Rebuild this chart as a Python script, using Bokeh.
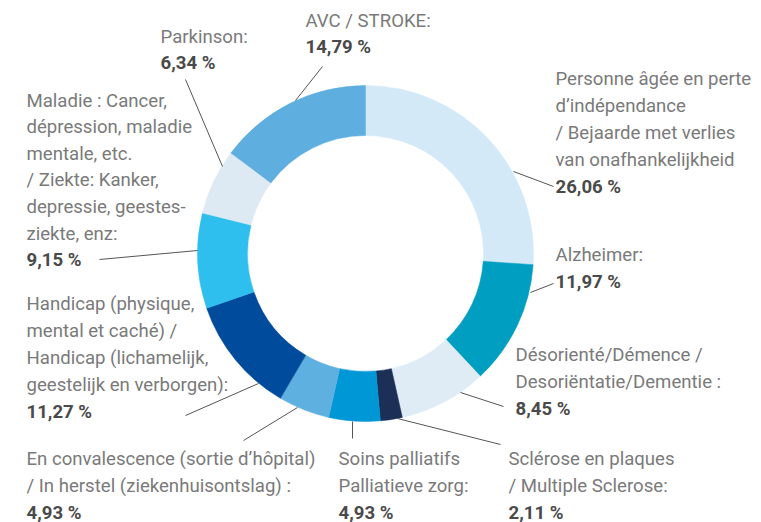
import numpy as np
from bokeh.plotting import figure
from bokeh.models import Range1d, ColumnDataSource
from bokeh.core.properties import value
from bokeh.embed import file_html
from bokeh.resources import INLINE

# ---- data ----
categories = [
    "Personne âgée en perte d’indépendance / Bejaarde met verlies van onafhankelijkheid",
    "Alzheimer",
    "Désorienté/Démence / Desoriëntatie/Dementie",
    "Sclérose en plaques / Multiple Sclerose",
    "Soins palliatifs / Palliatieve zorg",
    "En convalescence / In herstel",
    "Handicap",
    "Maladie / Ziekte",
    "Parkinson",
    "AVC / STROKE",
]
values = [26.06, 11.97, 8.45, 2.11, 4.93, 4.93, 11.27, 9.15, 6.34, 14.79]
colors = ["#d3e9f8", "#009fc2", "#dfecf6", "#1b2f57", "#0097d7",
          "#5eb0e1", "#004b9b", "#2fbfee", "#dde9f3", "#5eafe0"]
label_lines = [
    ["Personne âgée en perte", "d’indépendance", "/ Bejaarde met verlies", "van onafhankelijkheid"],
    ["Alzheimer:"],
    ["Désorienté/Démence /", "Desoriëntatie/Dementie :"],
    ["Sclérose en plaques", "/ Multiple Sclerose:"],
    ["Soins palliatifs", "Palliatieve zorg:"],
    ["En convalescence (sortie d’hôpital)", "/ In herstel (ziekenhuisontslag) :"],
    ["Handicap (physique,", "mental et caché) /", "Handicap (lichamelijk,", "geestelijk en verborgen):"],
    ["Maladie : Cancer,", "dépression, maladie", "mentale, etc.", "/ Ziekte: Kanker,", "depressie, geestes-", "ziekte, enz:"],
    ["Parkinson:"],
    ["AVC / STROKE:"],
]

# ---- layout (image pixel coordinates) ----
W, H = 761, 522
def Y(img_y):
    return H - img_y

CX, CY = 365, 253
R_IN, R_OUT = 118, 168

# x, first line centre y, line step
label_pos = [
    (555, 78, 27.0),
    (555, 254, 27.0),
    (515, 354, 27.0),
    (508, 458, 27.0),
    (338, 458, 27.0),
    (26, 458, 27.0),
    (26, 303, 27.2),
    (26, 100, 26.6),
    (160, 36, 26.0),
    (305, 20, 26.0),
]
leaders = [
    (513, 171, 553, 186),
    (530, 292, 553, 283),
    (460, 392, 503, 406),
    (397, 418, 500, 444),
    (352, 421, 352, 438),
    (297, 407, 243, 440),
    (258, 383, 185, 415),
    (197, 250, 99, 259),
    (222, 166, 185, 79),
    (295, 100, 322, 66),
]

p = figure(width=W, height=H, x_range=Range1d(0, W), y_range=Range1d(0, H),
           output_backend="svg", toolbar_location=None, min_border=0)
p.axis.visible = False
p.grid.visible = False
p.outline_line_color = None
p.background_fill_color = "white"
p.border_fill_color = "white"

vals = np.array(values)
cum = np.concatenate([[0], np.cumsum(vals)]) / vals.sum()
start = np.pi / 2 - cum[1:] * 2 * np.pi
end = np.pi / 2 - cum[:-1] * 2 * np.pi
src = ColumnDataSource(dict(start=start, end=end, color=colors, cat=categories))
p.annular_wedge(x=CX, y=Y(CY), inner_radius=R_IN, outer_radius=R_OUT,
                inner_radius_units="screen", outer_radius_units="screen",
                start_angle="start", end_angle="end", fill_color="color",
                line_color="color", line_width=0.5, source=src)

# leader lines
p.segment(x0=[l[0] for l in leaders], y0=[Y(l[1]) for l in leaders],
          x1=[l[2] for l in leaders], y1=[Y(l[3]) for l in leaders],
          line_color="#555555", line_width=1)

# labels
gx, gy, gt, bx, by, bt = [], [], [], [], [], []
for lines, v, (x, y0, step) in zip(label_lines, values, label_pos):
    for k, line in enumerate(lines):
        gx.append(x); gy.append(Y(y0 + k * step)); gt.append(line)
    bx.append(x); by.append(Y(y0 + len(lines) * step))
    bt.append(f"{v:.2f}".replace(".", ",") + " %")

p.text(x=gx, y=gy, text=gt, text_font=value("Roboto"), text_font_size="18.6px",
       text_color="#7a7a7a", text_baseline="middle", text_align="left")
p.text(x=bx, y=by, text=bt, text_font=value("Roboto"), text_font_size="18.6px",
       text_font_style="bold", text_color="#4a4a4a", text_baseline="middle",
       text_align="left")

open("out.html", "w").write(file_html(p, INLINE))
